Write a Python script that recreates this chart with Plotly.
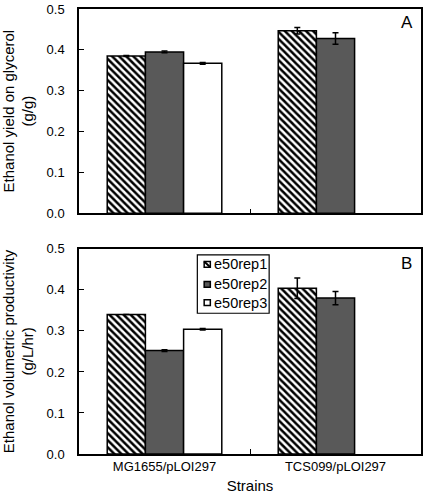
import plotly.graph_objects as go
from plotly.subplots import make_subplots

strains = ["MG1655/pLOI297", "TCS099/pLOI297"]
series_names = ["e50rep1", "e50rep2", "e50rep3"]

# Panel A: ethanol yield on glycerol (g/g)
yield_rep1 = [0.385, 0.447]
yield_rep1_err = [0.001, 0.008]
yield_rep2 = [0.395, 0.428]
yield_rep2_err = [0.002, 0.014]
yield_rep3 = [0.367, None]
yield_rep3_err = [0.002, 0.0]

# Panel B: ethanol volumetric productivity (g/L/hr)
prod_rep1 = [0.340, 0.404]
prod_rep1_err = [0.0, 0.025]
prod_rep2 = [0.252, 0.380]
prod_rep2_err = [0.002, 0.016]
prod_rep3 = [0.304, None]
prod_rep3_err = [0.002, 0.0]

FONT = "Arial, Liberation Sans, sans-serif"
DARK = "#595959"

styles = [
    dict(color="white", pattern=dict(shape="\\", fgcolor="black", bgcolor="white", size=5, solidity=0.5,
                                     fgopacity=1, fillmode="overlay")),
    dict(color=DARK),
    dict(color="white"),
]

fig = make_subplots(rows=2, cols=1)

panels = [
    (1, [yield_rep1, yield_rep2, yield_rep3], [yield_rep1_err, yield_rep2_err, yield_rep3_err]),
    (2, [prod_rep1, prod_rep2, prod_rep3], [prod_rep1_err, prod_rep2_err, prod_rep3_err]),
]
for row, vals, errs in panels:
    for i, name in enumerate(series_names):
        fig.add_trace(go.Bar(
            x=strains, y=vals[i], name=name,
            marker=dict(**styles[i], line=dict(color="black", width=1.5)),
            error_y=dict(type="data", array=errs[i], color="black", thickness=1.5, width=3),
            showlegend=False,
        ), row=row, col=1)

axis_common = dict(showline=True, linecolor="black", linewidth=1.5, mirror=True,
                   showgrid=False, zeroline=False, ticks="inside", ticklen=5,
                   tickcolor="black", tickwidth=1.2)

fig.update_layout(
    width=425, height=500,
    margin=dict(l=79, r=2, t=5, b=46),
    paper_bgcolor="white", plot_bgcolor="white",
    barmode="group", bargap=0.33, bargroupgap=0,
    font=dict(family=FONT, size=13, color="black"),
    showlegend=False,
)

fig.update_xaxes(**axis_common, tickson="boundaries")
fig.update_xaxes(showticklabels=False, domain=[0, 1], row=1, col=1)
fig.update_xaxes(domain=[0, 1], row=2, col=1,
                 title=dict(text="Strains", font=dict(size=15), standoff=7))
fig.update_yaxes(**axis_common, range=[0, 0.5], dtick=0.1, tickformat=".1f",
                 ticklabelstandoff=10)
fig.update_yaxes(domain=[0.541, 1.0], row=1, col=1,
                 title=dict(text="Ethanol yield on glycerol<br>(g/g)", font=dict(size=15), standoff=10))
fig.update_yaxes(domain=[0.0, 0.461], row=2, col=1,
                 title=dict(text="Ethanol volumetric productivity<br>(g/L/hr)", font=dict(size=15), standoff=10))

fig.add_annotation(text="A", xref="x domain", yref="y domain", x=0.959, y=0.932,
                   showarrow=False, font=dict(size=17), xanchor="center", yanchor="middle")
fig.add_annotation(text="B", xref="x2 domain", yref="y2 domain", x=0.959, y=0.928,
                   showarrow=False, font=dict(size=17), xanchor="center", yanchor="middle")

# Legend box drawn inside panel B (x2/y2 domain coordinates)
LX0, LX1, LY0, LY1 = 0.346, 0.556, 0.686, 0.971
fig.add_shape(type="rect", xref="x2 domain", yref="y2 domain",
              x0=LX0, x1=LX1, y0=LY0, y1=LY1,
              line=dict(color="black", width=1.2), fillcolor="white", layer="above")
row_y = [0.924, 0.827, 0.738]
sw_x0, sw_x1 = 0.366, 0.384
sw_h = 0.014
swatch_fill = ["white", DARK, "white"]
for k, name in enumerate(series_names):
    yc = row_y[k]
    fig.add_shape(type="rect", xref="x2 domain", yref="y2 domain",
                  x0=sw_x0, x1=sw_x1, y0=yc - sw_h, y1=yc + sw_h,
                  line=dict(color="black", width=1.5), fillcolor=swatch_fill[k], layer="above")
    if k == 0:
        fig.add_shape(type="line", xref="x2 domain", yref="y2 domain",
                      x0=sw_x0, x1=sw_x1, y0=yc + sw_h, y1=yc - sw_h,
                      line=dict(color="black", width=2), layer="above")
    fig.add_annotation(text=name, xref="x2 domain", yref="y2 domain",
                       x=0.388, y=yc, xanchor="left", yanchor="middle",
                       showarrow=False, font=dict(size=14.5))

fig.write_html("out.html", config={"displayModeBar": False},
               post_script="document.body.style.margin='0px';document.body.style.overflow='hidden';")
